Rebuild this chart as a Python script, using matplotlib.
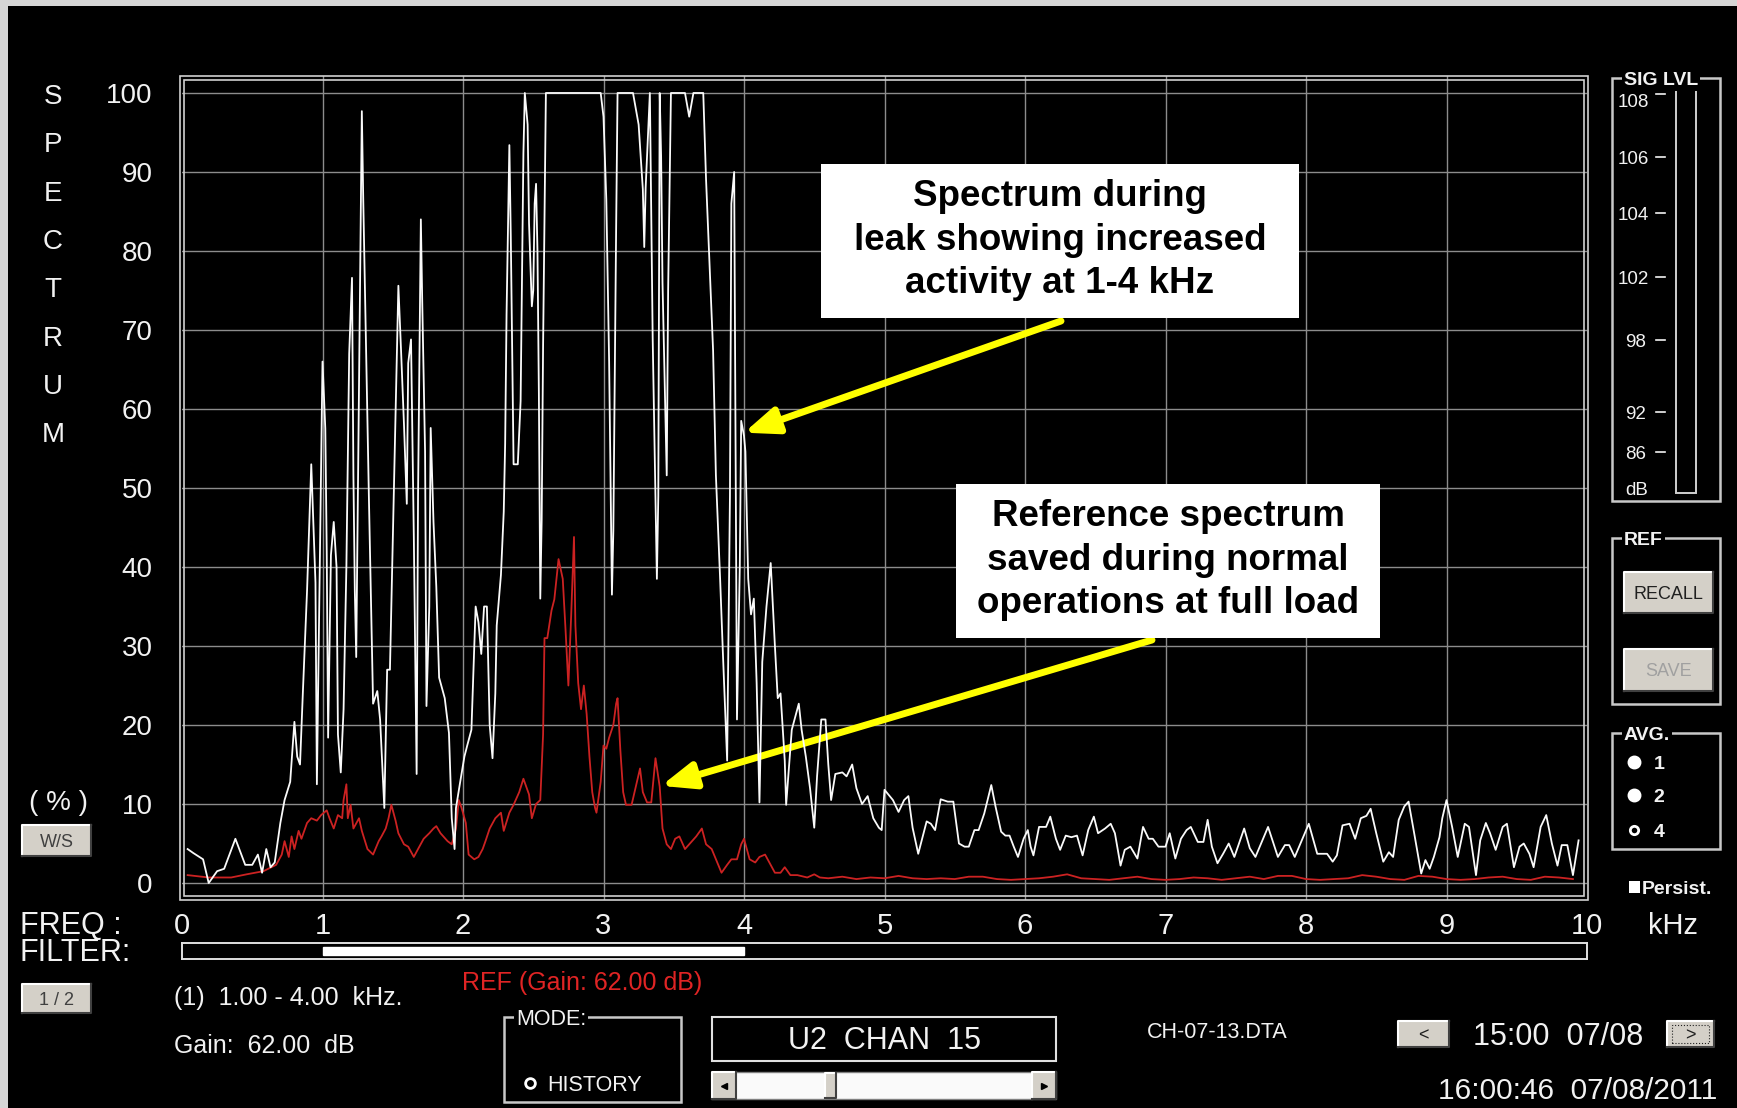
import numpy as np
import matplotlib
matplotlib.use('Agg')
import matplotlib.pyplot as plt
from matplotlib.patches import Rectangle
from matplotlib.lines import Line2D

plt.rcParams['font.family'] = ['Liberation Sans', 'DejaVu Sans']

W, H = 1737, 1108

# leak spectrum (white trace), % of full scale vs kHz
LEAK_KHZ = [0.04, 0.08, 0.15, 0.19, 0.25, 0.30, 0.38, 0.45, 0.50, 0.54,
            0.57, 0.60, 0.63, 0.66, 0.70, 0.73, 0.77, 0.80, 0.82, 0.84,
            0.86, 0.89, 0.92, 0.93, 0.95, 0.96, 0.98, 1.00, 1.02, 1.03,
            1.04, 1.06, 1.08, 1.10, 1.11, 1.13, 1.15, 1.17, 1.19, 1.21,
            1.22, 1.23, 1.24, 1.26, 1.28, 1.29, 1.31, 1.33, 1.35, 1.36,
            1.39, 1.41, 1.44, 1.46, 1.48, 1.51, 1.53, 1.54, 1.56, 1.58,
            1.60, 1.61, 1.63, 1.65, 1.67, 1.68, 1.70, 1.71, 1.73, 1.74,
            1.76, 1.77, 1.79, 1.81, 1.83, 1.87, 1.90, 1.92, 1.94, 1.95,
            1.98, 2.01, 2.03, 2.06, 2.09, 2.11, 2.13, 2.15, 2.17, 2.19,
            2.21, 2.23, 2.24, 2.27, 2.29, 2.30, 2.31, 2.33, 2.34, 2.36,
            2.39, 2.41, 2.42, 2.43, 2.44, 2.46, 2.47, 2.49, 2.50, 2.51,
            2.52, 2.53, 2.54, 2.55, 2.56, 2.57, 2.59, 2.98, 3.00, 3.02,
            3.04, 3.06, 3.07, 3.09, 3.10, 3.21, 3.25, 3.28, 3.29, 3.30,
            3.33, 3.35, 3.38, 3.39, 3.40, 3.41, 3.42, 3.45, 3.46, 3.48,
            3.58, 3.61, 3.64, 3.71, 3.73, 3.78, 3.80, 3.83, 3.85, 3.88,
            3.90, 3.91, 3.93, 3.95, 3.97, 3.98, 4.00, 4.01, 4.03, 4.05,
            4.07, 4.09, 4.11, 4.13, 4.16, 4.19, 4.22, 4.24, 4.26, 4.29,
            4.30, 4.34, 4.39, 4.41, 4.44, 4.47, 4.50, 4.52, 4.55, 4.58,
            4.60, 4.62, 4.65, 4.70, 4.73, 4.77, 4.80, 4.84, 4.88, 4.92,
            4.96, 4.98, 5.00, 5.06, 5.10, 5.14, 5.17, 5.20, 5.24, 5.30,
            5.33, 5.36, 5.40, 5.45, 5.49, 5.53, 5.57, 5.60, 5.64, 5.67,
            5.71, 5.76, 5.79, 5.83, 5.86, 5.89, 5.92, 5.95, 5.99, 6.02,
            6.04, 6.06, 6.10, 6.15, 6.18, 6.22, 6.25, 6.29, 6.33, 6.37,
            6.41, 6.45, 6.49, 6.52, 6.57, 6.61, 6.64, 6.68, 6.71, 6.75,
            6.80, 6.84, 6.88, 6.91, 6.95, 7.00, 7.03, 7.07, 7.11, 7.15,
            7.18, 7.23, 7.27, 7.30, 7.33, 7.37, 7.41, 7.45, 7.49, 7.56,
            7.60, 7.64, 7.73, 7.80, 7.85, 7.88, 7.92, 8.02, 8.08, 8.15,
            8.19, 8.22, 8.26, 8.31, 8.35, 8.39, 8.43, 8.46, 8.50, 8.55,
            8.59, 8.62, 8.66, 8.70, 8.73, 8.77, 8.82, 8.85, 8.88, 8.91,
            8.95, 8.97, 9.00, 9.04, 9.08, 9.13, 9.16, 9.21, 9.24, 9.28,
            9.31, 9.35, 9.40, 9.43, 9.48, 9.52, 9.55, 9.59, 9.62, 9.67,
            9.71, 9.75, 9.79, 9.82, 9.86, 9.90, 9.94]
LEAK_PCT = [4.3, 3.8, 3.0, 0.0, 1.5, 1.8, 5.6, 2.3, 2.3, 3.6,
            1.3, 4.3, 2.0, 2.6, 7.6, 10.5, 12.8, 20.4, 16.0, 15.0,
            24.0, 37.0, 53.0, 48.0, 38.0, 12.5, 39.0, 66.0, 57.5, 42.0,
            18.4, 41.5, 45.7, 40.0, 18.8, 14.0, 22.0, 40.0, 67.0, 76.6,
            51.6, 37.0, 28.6, 62.8, 97.7, 86.5, 67.4, 49.0, 31.0, 22.7,
            24.3, 20.7, 9.5, 27.0, 27.0, 51.0, 67.4, 75.6, 67.0, 58.0,
            48.0, 65.8, 68.8, 43.8, 13.8, 49.0, 84.0, 73.4, 54.6, 22.4,
            35.0, 57.6, 45.7, 37.5, 26.0, 23.4, 19.0, 8.2, 4.3, 9.5,
            12.8, 16.0, 17.4, 19.4, 35.0, 33.0, 29.0, 35.0, 35.0, 20.0,
            15.8, 24.0, 32.6, 39.0, 47.0, 55.6, 72.0, 93.4, 82.0, 53.0,
            53.0, 61.0, 77.0, 92.4, 100, 96.0, 83.5, 73.0, 75.0, 86.0,
            88.5, 80.0, 62.0, 36.0, 46.0, 68.0, 100, 100, 97.0, 86.5,
            66.0, 36.5, 44.6, 83.0, 100, 100, 96.0, 87.8, 80.5, 88.0,
            100, 69.0, 38.5, 49.0, 100, 92.0, 76.0, 51.6, 75.0, 100,
            100, 97.0, 100, 100, 89.0, 67.4, 51.6, 38.5, 29.0, 15.5,
            49.0, 86.0, 90.0, 20.7, 40.0, 58.5, 56.6, 54.6, 38.5, 34.0,
            36.0, 25.3, 10.2, 28.0, 35.0, 40.5, 30.0, 23.4, 24.0, 15.5,
            9.9, 19.4, 22.7, 19.4, 16.0, 12.0, 7.0, 13.5, 20.7, 20.7,
            15.0, 10.5, 13.8, 14.0, 13.5, 15.0, 12.0, 10.0, 11.0, 8.2,
            7.0, 6.7, 11.8, 10.5, 9.0, 10.5, 11.0, 7.0, 3.7, 7.8,
            7.5, 6.7, 10.6, 10.3, 10.3, 5.0, 4.6, 4.6, 6.7, 6.7,
            8.8, 12.4, 9.7, 6.5, 6.0, 6.0, 4.6, 3.3, 5.6, 6.7,
            4.6, 3.5, 7.1, 7.1, 8.4, 5.6, 4.2, 6.0, 5.8, 6.0,
            3.5, 6.7, 8.4, 6.3, 6.9, 7.5, 6.3, 2.2, 4.2, 4.6,
            3.1, 7.1, 5.6, 5.6, 4.6, 4.6, 6.3, 3.1, 5.6, 6.7,
            7.1, 5.2, 5.2, 8.0, 4.6, 2.5, 3.7, 5.0, 3.3, 6.9,
            4.4, 3.3, 7.1, 3.3, 4.8, 4.8, 3.3, 7.5, 3.7, 3.7,
            2.7, 3.5, 7.3, 7.5, 5.6, 8.2, 8.5, 9.4, 6.3, 2.7,
            3.9, 3.3, 8.0, 9.7, 10.3, 6.3, 1.2, 2.9, 1.8, 3.3,
            5.8, 8.2, 10.5, 7.1, 3.3, 7.5, 7.1, 1.0, 5.4, 7.6,
            6.3, 4.2, 7.1, 7.5, 2.0, 4.6, 5.0, 3.7, 2.0, 7.1,
            8.6, 5.0, 2.2, 4.8, 4.8, 1.0, 5.4]

# reference spectrum (red trace)
REF_KHZ = [0.04, 0.19, 0.35, 0.46, 0.58, 0.67, 0.71, 0.73, 0.76, 0.78,
           0.80, 0.83, 0.85, 0.89, 0.92, 0.96, 0.99, 1.03, 1.05, 1.08,
           1.11, 1.14, 1.15, 1.17, 1.18, 1.20, 1.22, 1.26, 1.28, 1.32,
           1.36, 1.40, 1.42, 1.45, 1.47, 1.49, 1.52, 1.54, 1.58, 1.61,
           1.65, 1.68, 1.72, 1.76, 1.79, 1.81, 1.84, 1.89, 1.92, 1.95,
           1.97, 1.99, 2.02, 2.04, 2.08, 2.11, 2.14, 2.16, 2.19, 2.23,
           2.27, 2.29, 2.33, 2.36, 2.40, 2.43, 2.47, 2.49, 2.52, 2.55,
           2.57, 2.58, 2.60, 2.63, 2.65, 2.68, 2.71, 2.73, 2.75, 2.77,
           2.79, 2.80, 2.82, 2.84, 2.86, 2.88, 2.90, 2.92, 2.94, 2.95,
           2.98, 3.00, 3.02, 3.04, 3.07, 3.09, 3.10, 3.12, 3.14, 3.16,
           3.20, 3.23, 3.26, 3.28, 3.31, 3.34, 3.37, 3.40, 3.42, 3.45,
           3.48, 3.51, 3.54, 3.58, 3.61, 3.66, 3.70, 3.73, 3.77, 3.80,
           3.84, 3.88, 3.91, 3.95, 3.98, 4.00, 4.02, 4.04, 4.08, 4.11,
           4.15, 4.19, 4.22, 4.26, 4.29, 4.33, 4.38, 4.45, 4.50, 4.54,
           4.6, 4.7, 4.8, 4.9, 5.0, 5.1, 5.2, 5.3, 5.4, 5.5,
           5.6, 5.7, 5.8, 5.9, 6.0, 6.1, 6.2, 6.3, 6.4, 6.5,
           6.6, 6.7, 6.8, 6.9, 7.0, 7.1, 7.2, 7.3, 7.4, 7.5,
           7.6, 7.7, 7.8, 7.9, 8.0, 8.1, 8.2, 8.3, 8.4, 8.5,
           8.6, 8.7, 8.8, 8.9, 9.0, 9.1, 9.2, 9.3, 9.4, 9.5,
           9.6, 9.7, 9.8, 9.9]
REF_PCT = [1.0, 0.7, 0.7, 1.1, 1.5, 2.3, 3.6, 5.3, 3.3, 5.9,
           4.3, 6.6, 5.6, 7.6, 8.2, 7.9, 8.6, 9.2, 8.2, 6.9,
           8.6, 8.2, 10.5, 12.5, 8.2, 9.9, 6.9, 8.2, 6.6, 4.3,
           3.6, 5.3, 5.9, 6.9, 8.2, 9.9, 7.9, 6.3, 4.9, 4.6,
           3.3, 4.3, 5.6, 6.3, 6.9, 7.2, 6.3, 5.3, 4.9, 6.9,
           10.5, 9.5, 7.6, 3.6, 3.0, 3.3, 4.3, 5.3, 6.9, 8.2,
           8.9, 6.6, 8.9, 9.9, 11.5, 13.2, 11.2, 8.2, 10.0, 10.5,
           18.8, 31.0, 31.0, 34.5, 35.9, 41.0, 38.5, 32.0, 25.0, 33.9,
           43.8, 32.6, 25.3, 22.0, 25.0, 21.4, 16.0, 11.5, 9.5, 8.9,
           12.8, 17.4, 17.0, 18.4, 20.0, 22.7, 23.4, 16.8, 11.5, 9.9,
           9.9, 12.2, 14.5, 11.5, 10.2, 10.2, 15.8, 12.2, 6.9, 4.9,
           4.3, 5.6, 5.9, 4.3, 4.9, 5.9, 6.9, 4.9, 4.3, 3.0,
           1.3, 2.3, 3.0, 3.0, 4.9, 5.6, 4.3, 3.0, 2.6, 3.3,
           3.6, 2.3, 1.3, 1.3, 2.0, 1.0, 1.0, 0.7, 1.1, 0.7,
           0.6, 0.8, 0.5, 0.7, 0.6, 0.9, 0.6, 0.5, 0.6, 0.5,
           0.8, 0.8, 0.5, 0.4, 0.5, 0.6, 0.8, 1.1, 0.6, 0.5,
           0.4, 0.6, 0.8, 0.5, 0.4, 0.5, 0.7, 0.6, 0.4, 0.6,
           0.8, 0.5, 0.9, 0.9, 0.5, 0.4, 0.5, 0.6, 1.0, 0.8,
           0.5, 0.4, 0.9, 0.8, 0.5, 0.4, 0.5, 0.7, 0.8, 0.5,
           0.4, 0.8, 0.7, 0.5]

Y_TICKS = [0, 10, 20, 30, 40, 50, 60, 70, 80, 90, 100]
X_TICKS = [0, 1, 2, 3, 4, 5, 6, 7, 8, 9, 10]
FILTER_BAND = (1.0, 4.0)
SIG_LVL_LABELS = ['108', '106', '104', '102', '98', '92', '86', 'dB']
AVG_CHOICES = ['1', '2', '4']

NOTE_LEAK = 'Spectrum during\nleak showing increased\nactivity at 1-4 kHz'
NOTE_REF = 'Reference spectrum\nsaved during normal\noperations at full load'

UI_WHITE = '#f2f2f2'
BTN_FACE = '#d4d0c8'

fig = plt.figure(figsize=(W / 100, H / 100), dpi=100)
fig.patch.set_facecolor('#d6d6d6')


def px_rect(x0, y0, x1, y1, **kw):
    r = Rectangle((x0 / W, 1 - y1 / H), (x1 - x0) / W, (y1 - y0) / H,
                  transform=fig.transFigure, **kw)
    fig.add_artist(r)
    return r


def px_line(xs, ys, **kw):
    ln = Line2D([x / W for x in xs], [1 - y / H for y in ys],
                transform=fig.transFigure, **kw)
    fig.add_artist(ln)
    return ln


def px_text(x, y, s, size, ha='left', color=UI_WHITE, **kw):
    # y is the middle of the capitals, pixels from the top
    return fig.text(x / W, 1 - (y + 0.5 * size) / H, s, fontsize=size,
                    ha=ha, va='baseline', color=color, **kw)


def button(x0, y0, x1, y1, text, size=13, color='#202020'):
    px_rect(x0, y0, x1, y1, facecolor=BTN_FACE, edgecolor='none')
    px_line([x0, x0, x1], [y1, y0, y0], color='white', lw=1.5)
    px_line([x0, x1, x1], [y1, y1, y0], color='#404040', lw=1.5)
    if text:
        px_text((x0 + x1) / 2, (y0 + y1) / 2, text, size, ha='center', color=color)


def group(x0, y0, x1, y1, title, size=14, weight='bold'):
    px_rect(x0, y0, x1, y1, facecolor='none', edgecolor='#c8c8c8', lw=1.8)
    t = px_text(x0 + 12, y0, title, size, weight=weight)
    t.set_bbox(dict(facecolor='black', edgecolor='none', pad=1.5))


# black screen area inside the light window border
px_rect(8, 6, W, H, facecolor='black', edgecolor='none', zorder=-10)

# ---- main spectrum plot ----
ax = fig.add_axes([182 / W, 1 - 900 / H, (1587 - 182) / W, (900 - 76) / H])
ax.set_facecolor('black')
ax.set_xlim(0, 10)
ax.set_ylim(-2.15, 102.15)
for s in ax.spines.values():
    s.set_visible(False)
ax.set_xticks(X_TICKS)
ax.set_xticklabels([str(t) for t in X_TICKS])
ax.set_yticks(Y_TICKS)
ax.set_yticklabels([str(t) for t in Y_TICKS])
ax.tick_params(axis='both', length=0, colors=UI_WHITE)
ax.tick_params(axis='y', pad=21, labelsize=20)
ax.tick_params(axis='x', pad=9, labelsize=21)
ax.grid(True, color='#8c8c8c', lw=1.0)
gl = ax.get_xgridlines()
gl[0].set_visible(False)
gl[-1].set_visible(False)

ax.plot(REF_KHZ, REF_PCT, color='#cc2222', lw=1.3, zorder=3)
ax.plot(LEAK_KHZ, LEAK_PCT, color='#fafafa', lw=1.3, zorder=4)

# double frame round the plot
px_rect(180, 76, 1588, 900, facecolor='none', edgecolor='#d0d0d0', lw=1.2)
px_rect(184, 80, 1584, 896, facecolor='none', edgecolor='#d0d0d0', lw=1.2)

# yellow call-out arrows (heads on the traces)
arrow_kw = dict(arrowstyle='-|>,head_length=2.0,head_width=0.8', color='#ffff00',
                lw=5, shrinkA=0, shrinkB=0, mutation_scale=10)
ax.annotate('', xy=(4.0, 57), xycoords='data', xytext=(1061 / W, 1 - 321 / H),
            textcoords='figure fraction', arrowprops=arrow_kw, annotation_clip=False)
ax.annotate('', xy=(3.41, 12.3), xycoords='data', xytext=(1152 / W, 1 - 640 / H),
            textcoords='figure fraction', arrowprops=arrow_kw, annotation_clip=False)

# white note boxes
px_rect(821, 164, 1299, 318, facecolor='white', edgecolor='none')
fig.text(1060 / W, 1 - 240 / H, NOTE_LEAK, fontsize=26.5, weight='bold', color='black',
         ha='center', va='center', multialignment='center', linespacing=1.32)
px_rect(956, 484, 1380, 638, facecolor='white', edgecolor='none')
fig.text(1168 / W, 1 - 560 / H, NOTE_REF, fontsize=26.5, weight='bold', color='black',
         ha='center', va='center', multialignment='center', linespacing=1.32)

# ---- left labels ----
for i, ch in enumerate('SPECTRUM'):
    px_text(53, 94 + i * 48.3, ch, 20, ha='center')
px_text(58, 800, '( % )', 20, ha='center')
button(22, 825, 91, 856, 'W/S', 13, '#404040')
px_text(20, 923, 'FREQ :', 22)
px_text(20, 950, 'FILTER:', 22)
px_text(1673, 924, 'kHz', 21, ha='center')

# filter band bar under the frequency scale
axf = fig.add_axes([182 / W, 1 - 959 / H, (1587 - 182) / W, 16 / H])
axf.set_facecolor('black')
axf.set_xlim(0, 10)
axf.set_ylim(0, 1)
axf.set_xticks([])
axf.set_yticks([])
for s in axf.spines.values():
    s.set_color('#e0e0e0')
    s.set_linewidth(1.4)
axf.axvspan(FILTER_BAND[0], FILTER_BAND[1], ymin=0.25, ymax=0.75, color='white')

# ---- bottom status area ----
button(22, 984, 91, 1013, '1 / 2', 13, '#404040')
px_text(174, 996, '(1)  %.2f - %.2f  kHz.' % FILTER_BAND, 18)
px_text(174, 1044, 'Gain:  62.00  dB', 18)
px_text(462, 981, 'REF (Gain: 62.00 dB)', 18, color='#e02424')

group(504, 1017, 681, 1102, 'MODE:', 15.5, weight='normal')
px_line([530], [1083], marker='o', ms=7, mfc='black', mec='white', mew=2)
px_text(547, 1083, 'HISTORY', 15.5)

px_rect(712, 1017, 1056, 1061, facecolor='black', edgecolor='#e0e0e0', lw=1.5)
px_text(884, 1038, 'U2  CHAN  15', 22, ha='center')

px_rect(712, 1072, 1056, 1099, facecolor='#fafafa', edgecolor='#808080', lw=1)
button(712, 1072, 736, 1099, '')
button(1032, 1072, 1056, 1099, '')
button(825, 1073, 836, 1098, '')
px_line([724], [1085.5], marker='<', ms=5, color='black')
px_line([1044], [1085.5], marker='>', ms=5, color='black')

px_text(1147, 1030, 'CH-07-13.DTA', 15.5)
button(1398, 1021, 1449, 1047, '<', 13)
px_text(1473, 1034, '15:00  07/08', 22)
button(1667, 1021, 1714, 1047, '>', 13)
px_rect(1672, 1025, 1709, 1043, facecolor='none', edgecolor='#202020', lw=0.8, ls=':')
px_text(1717, 1088, '16:00:46  07/08/2011', 21.5, ha='right')

# ---- right side panels ----
group(1612, 78, 1720, 501, 'SIG LVL', 14)
lvl_y = [100, 157, 213, 277, 340, 412, 452, 488]
for lab, yy in zip(SIG_LVL_LABELS, lvl_y):
    px_text(1618 if len(lab) == 3 else 1625, yy, lab, 13.5)
    if lab != 'dB':
        px_line([1656, 1665], [yy - (6 if lab == '108' else 0)] * 2, color=UI_WHITE, lw=1.2)
px_rect(1676, 89, 1696, 493, facecolor='black', edgecolor='#d0d0d0', lw=1.4)

group(1612, 538, 1720, 704, 'REF', 14)
button(1624, 572, 1713, 613, 'RECALL', 13)
button(1624, 649, 1713, 691, 'SAVE', 13, '#a0a0a0')

group(1612, 733, 1720, 849, 'AVG.', 14)
for k, (lab, yy) in enumerate(zip(AVG_CHOICES, [762, 795, 830])):
    filled = k < 2
    px_line([1634], [yy], marker='o', ms=8 if filled else 6,
            mfc='white' if filled else 'black', mec='white', mew=2)
    px_text(1659, yy, lab, 14, ha='center', weight='bold')

px_rect(1629, 881, 1640, 893, facecolor='white', edgecolor='none')
px_text(1642, 887, 'Persist.', 14, weight='bold')

fig.savefig('out.png', dpi=100, facecolor=fig.get_facecolor())
